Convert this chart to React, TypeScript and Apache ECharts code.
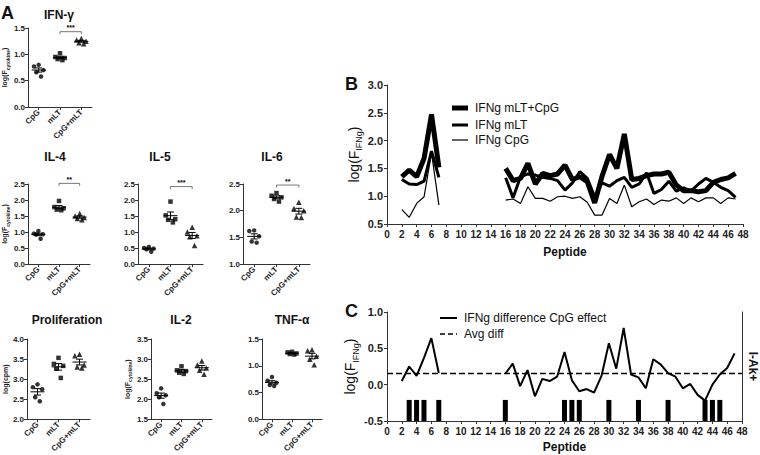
import React, { useEffect, useRef } from "react";
import * as echarts from "echarts";

const FONT = "Liberation Sans, Arial, Helvetica, sans-serif";
const GROUPS = ["CpG", "mLT", "CpG+mLT"];

// ---- Panel A data (log values, 5 animals per group) ----
const IFNG_CPG = [0.8, 0.77, 0.7, 0.66, 0.58];
const IFNG_MLT = [1.02, 0.95, 0.93, 0.91, 0.89];
const IFNG_BOTH = [1.3, 1.27, 1.25, 1.22, 1.2];

const IL4_CPG = [1.03, 0.95, 0.93, 0.92, 0.79];
const IL4_MLT = [1.97, 1.78, 1.74, 1.7, 1.68];
const IL4_BOTH = [1.58, 1.5, 1.45, 1.42, 1.38];

const IL5_CPG = [0.53, 0.5, 0.48, 0.46, 0.38];
const IL5_MLT = [1.95, 1.52, 1.4, 1.38, 1.3];
const IL5_BOTH = [1.15, 1.0, 0.88, 0.85, 0.58];

const IL6_CPG = [1.63, 1.62, 1.52, 1.42, 1.4];
const IL6_MLT = [2.33, 2.28, 2.25, 2.22, 2.17];
const IL6_BOTH = [2.16, 2.04, 2.0, 1.88, 1.87];

const PROLIF_CPG = [2.87, 2.8, 2.75, 2.55, 2.45];
const PROLIF_MLT = [3.53, 3.38, 3.33, 3.26, 3.03];
const PROLIF_BOTH = [3.62, 3.58, 3.35, 3.3, 3.28];

const IL2_CPG = [2.27, 2.15, 2.1, 2.05, 1.88];
const IL2_MLT = [2.82, 2.72, 2.7, 2.66, 2.63];
const IL2_BOTH = [2.95, 2.85, 2.78, 2.72, 2.62];

const TNF_CPG = [0.79, 0.72, 0.68, 0.64, 0.62];
const TNF_MLT = [1.26, 1.25, 1.23, 1.22, 1.21];
const TNF_BOTH = [1.3, 1.28, 1.18, 1.12, 1.02];

// ---- Panel B / C data ----
const PEPTIDES = [
  2, 3, 4, 5, 6, 7, 8, 9, 10, 11, 12, 13, 14, 15, 16, 17, 18, 19, 20, 21, 22, 23, 24,
  25, 26, 27, 28, 29, 30, 31, 32, 33, 34, 35, 36, 37, 38, 39, 40, 41, 42, 43, 44, 45, 46, 47,
];
const IFNG_MLT_CPG_PEP = [
  1.35, 1.47, 1.35, 1.68, 2.47, 1.52, null, null, null, null, null, null, null, null,
  1.5, 1.28, 1.32, 1.59, 1.22, 1.41, 1.37, 1.4, 1.56, 1.3, 1.35, 1.26, 0.88, 1.36, 1.75,
  1.5, 2.12, 1.3, 1.32, 1.37, 1.4, 1.4, 1.43, 1.2, 1.1, 1.1, 1.08, 1.1, 1.25, 1.3, 1.33, 1.41,
];
const IFNG_MLT_PEP = [
  1.3, 1.22, 1.21, 1.27, 1.81, 1.34, null, null, null, null, null, null, null, null,
  1.33, 0.97, 1.35, 1.4, 1.38, 1.34, 1.32, 1.28, 1.11, 1.24, 1.44, 1.32, 0.99, 1.24, 1.18,
  1.28, 1.34, 1.16, 1.22, 1.42, 1.05, 1.12, 1.27, 1.09, 1.15, 1.09, 1.22, 1.32, 1.25, 1.16, 1.1, 0.98,
];
const IFNG_CPG_PEP = [
  0.76, 0.62, 0.87, 0.99, 1.78, 0.84, null, null, null, null, null, null, null, null,
  0.93, 0.95, 0.87, 1.17, 0.96, 0.96, 0.91, 0.99, 1.0, 0.96, 0.99, 0.89, 0.66, 0.66, 0.96,
  0.87, 1.2, 0.81, 0.9, 0.95, 0.85, 0.93, 0.91, 0.97, 0.87, 0.97, 0.9, 0.97, 0.97, 0.87, 0.97, 0.95,
];
const IFNG_DIFF_PEP = [
  0.05, 0.25, 0.12, 0.37, 0.64, 0.16, null, null, null, null, null, null, null, null,
  0.15, 0.29, -0.02, 0.2, -0.16, 0.08, 0.05, 0.11, 0.45, 0.06, -0.09, -0.06, -0.11, 0.12, 0.57,
  0.22, 0.78, 0.14, 0.1, -0.05, 0.35, 0.28, 0.16, 0.11, -0.05, 0.01, -0.14, -0.22, 0.0, 0.14, 0.23, 0.43,
];
const AVG_DIFF = 0.153;
const I_AK_POSITIVE = [3, 4, 5, 7, 16, 24, 25, 26, 30, 34, 38, 43, 44, 45];

// ---- helpers ----
const mean = (a: number[]) => a.reduce((s, v) => s + v, 0) / a.length;
const sem = (a: number[]) => {
  const m = mean(a);
  const v = a.reduce((s, x) => s + (x - m) * (x - m), 0) / (a.length - 1);
  return Math.sqrt(v) / Math.sqrt(a.length);
};

const SYMBOLS = ["circle", "rect", "triangle"];
const SYMSIZE = [4.5, 4.5, 5.5];
const JITTER = [0, -0.22, 0.22, -0.11, 0.11];
const AXIS_LINE = { color: "#333", width: 1 };

const SMALL_RICH = {
  a: { fontSize: 7, fontWeight: "bold", fontFamily: FONT, color: "#222", lineHeight: 11, verticalAlign: "middle" },
  b: { fontSize: 5, fontWeight: "bold", fontFamily: FONT, color: "#222", lineHeight: 7, verticalAlign: "bottom" },
};
const BIG_RICH = {
  a: { fontSize: 14, fontFamily: FONT, color: "#111", lineHeight: 20, verticalAlign: "middle" },
  b: { fontSize: 9, fontFamily: FONT, color: "#111", lineHeight: 12, verticalAlign: "bottom" },
};

type APanel = {
  title: string;
  tx: number;
  ty: number;
  left: number;
  top: number;
  width: number;
  height: number;
  yMin: number;
  yMax: number;
  yName?: string;
  nameGap?: number;
  groups: number[][];
  bracket?: { y: number; stars: string };
};

const CYTO_NAME = "{a|log(F}{b|cytokine}{a|)}";

const A_PANELS: APanel[] = [
  { title: "IFN-γ", tx: 59, ty: 15, left: 27, top: 28, width: 65, height: 79, yMin: 0, yMax: 1.5, yName: CYTO_NAME, nameGap: 16, groups: [IFNG_CPG, IFNG_MLT, IFNG_BOTH], bracket: { y: 1.43, stars: "***" } },
  { title: "IL-4", tx: 55, ty: 157, left: 28, top: 184, width: 62, height: 80, yMin: 0, yMax: 2.5, yName: CYTO_NAME, nameGap: 16, groups: [IL4_CPG, IL4_MLT, IL4_BOTH], bracket: { y: 2.52, stars: "**" } },
  { title: "IL-5", tx: 160, ty: 157, left: 138, top: 184, width: 65, height: 80, yMin: 0, yMax: 2.5, groups: [IL5_CPG, IL5_MLT, IL5_BOTH], bracket: { y: 2.42, stars: "***" } },
  { title: "IL-6", tx: 272, ty: 157, left: 243, top: 184, width: 67, height: 80, yMin: 1, yMax: 2.5, groups: [IL6_CPG, IL6_MLT, IL6_BOTH], bracket: { y: 2.48, stars: "**" } },
  { title: "Proliferation", tx: 67, ty: 320, left: 27, top: 339, width: 63, height: 84, yMin: 2, yMax: 4, yName: "{a|log(cpm)}", nameGap: 16, groups: [PROLIF_CPG, PROLIF_MLT, PROLIF_BOTH] },
  { title: "IL-2", tx: 181, ty: 320, left: 151, top: 339, width: 61, height: 84, yMin: 1.5, yMax: 3.5, yName: CYTO_NAME, nameGap: 16, groups: [IL2_CPG, IL2_MLT, IL2_BOTH] },
  { title: "TNF-α", tx: 292, ty: 320, left: 262, top: 339, width: 60, height: 84, yMin: 0, yMax: 1.5, groups: [TNF_CPG, TNF_MLT, TNF_BOTH] },
];

function textEl(text: string, x: number, y: number, size: number, weight: string, align = "center", extra: any = {}) {
  return {
    type: "text",
    x,
    y,
    silent: true,
    style: {
      text,
      fontSize: size,
      fontWeight: weight,
      fontFamily: FONT,
      fill: "#111",
      align,
      verticalAlign: "middle",
      textAlign: align,
      textVerticalAlign: "middle",
    },
    ...extra,
  };
}

function renderMeanSem(_params: any, api: any) {
  const x = api.value(0);
  const m = api.value(1);
  const s = api.value(2);
  const c = api.coord([x, m]);
  const t = api.coord([x, m + s]);
  const b = api.coord([x, m - s]);
  const st = { stroke: "#000", lineWidth: 1 };
  const hw = 7;
  const cw = 3.5;
  return {
    type: "group",
    children: [
      { type: "line", shape: { x1: c[0] - hw, y1: c[1], x2: c[0] + hw, y2: c[1] }, style: st },
      { type: "line", shape: { x1: t[0], y1: t[1], x2: b[0], y2: b[1] }, style: st },
      { type: "line", shape: { x1: t[0] - cw, y1: t[1], x2: t[0] + cw, y2: t[1] }, style: st },
      { type: "line", shape: { x1: b[0] - cw, y1: b[1], x2: b[0] + cw, y2: b[1] }, style: st },
    ],
  };
}

function buildOption() {
  const grid: any[] = [];
  const xAxis: any[] = [];
  const yAxis: any[] = [];
  const series: any[] = [];
  const graphic: any[] = [];

  A_PANELS.forEach((p) => {
    const g = grid.length;
    grid.push({ left: p.left, top: p.top, width: p.width, height: p.height });
    const xc = xAxis.length;
    xAxis.push({
      type: "category",
      gridIndex: g,
      data: GROUPS,
      boundaryGap: true,
      axisLine: { show: true, onZero: false, lineStyle: AXIS_LINE },
      axisTick: { show: true, alignWithLabel: true, length: 3, lineStyle: AXIS_LINE },
      axisLabel: { rotate: 45, fontSize: 8, fontWeight: "bold", color: "#222", margin: 4, interval: 0, fontFamily: FONT },
      splitLine: { show: false },
    });
    const xv = xAxis.length;
    xAxis.push({ type: "value", gridIndex: g, min: 0, max: 3, show: false });
    const yi = yAxis.length;
    yAxis.push({
      type: "value",
      gridIndex: g,
      min: p.yMin,
      max: p.yMax,
      interval: 0.5,
      axisLine: { show: true, onZero: false, lineStyle: AXIS_LINE },
      axisTick: { show: true, length: 3, lineStyle: AXIS_LINE },
      axisLabel: { fontSize: 8, fontWeight: "bold", color: "#222", margin: 3, fontFamily: FONT, formatter: (v: number) => v.toFixed(1) },
      splitLine: { show: false },
      name: p.yName || "",
      nameLocation: "middle",
      nameRotate: 90,
      nameGap: p.nameGap || 16,
      nameTextStyle: { rich: SMALL_RICH },
    });
    void xc;
    p.groups.forEach((vals, k) => {
      series.push({
        type: "scatter",
        name: `${p.title} ${GROUPS[k]}`,
        xAxisIndex: xv,
        yAxisIndex: yi,
        symbol: SYMBOLS[k],
        symbolSize: SYMSIZE[k],
        itemStyle: { color: "#000" },
        silent: true,
        data: vals.map((v, i) => [k + 0.5 + JITTER[i], v]),
      });
    });
    series.push({
      type: "custom",
      xAxisIndex: xv,
      yAxisIndex: yi,
      silent: true,
      clip: false,
      z: 3,
      renderItem: renderMeanSem,
      data: p.groups.map((vals, k) => [k + 0.5, mean(vals), sem(vals)]),
    });
    if (p.bracket) {
      const stars = p.bracket.stars;
      series.push({
        type: "custom",
        xAxisIndex: xv,
        yAxisIndex: yi,
        silent: true,
        clip: false,
        data: [[1.5, 2.5, p.bracket.y]],
        renderItem: (_params: any, api: any) => {
          const a = api.coord([api.value(0), api.value(2)]);
          const b = api.coord([api.value(1), api.value(2)]);
          const st = { stroke: "#555", lineWidth: 0.8 };
          return {
            type: "group",
            children: [
              { type: "line", shape: { x1: a[0], y1: a[1], x2: b[0], y2: b[1] }, style: st },
              { type: "line", shape: { x1: a[0], y1: a[1], x2: a[0], y2: a[1] + 2.5 }, style: st },
              { type: "line", shape: { x1: b[0], y1: b[1], x2: b[0], y2: b[1] + 2.5 }, style: st },
              {
                type: "text",
                x: (a[0] + b[0]) / 2,
                y: a[1] - 0.5,
                style: {
                  text: stars,
                  fontSize: 7,
                  fontWeight: "bold",
                  fontFamily: FONT,
                  fill: "#000",
                  align: "center",
                  verticalAlign: "bottom",
                  textAlign: "center",
                  textVerticalAlign: "bottom",
                },
              },
            ],
          };
        },
      });
    }
    graphic.push(textEl(p.title, p.tx, p.ty, 12, "bold"));
  });

  // ---- Panel B ----
  const gB = grid.length;
  grid.push({ left: 387, top: 85, width: 356, height: 139 });
  const xB = xAxis.length;
  xAxis.push({
    type: "value",
    gridIndex: gB,
    min: 0,
    max: 48,
    interval: 2,
    axisLine: { show: true, onZero: false, lineStyle: AXIS_LINE },
    axisTick: { show: true, length: 3, lineStyle: AXIS_LINE },
    axisLabel: { fontSize: 10, fontWeight: "bold", color: "#222", margin: 5, fontFamily: FONT },
    splitLine: { show: false },
    name: "Peptide",
    nameLocation: "middle",
    nameGap: 22,
    nameTextStyle: { fontSize: 12, fontWeight: "bold", color: "#111", fontFamily: FONT },
  });
  const yB = yAxis.length;
  yAxis.push({
    type: "value",
    gridIndex: gB,
    min: 0.5,
    max: 3,
    interval: 0.5,
    axisLine: { show: true, onZero: false, lineStyle: AXIS_LINE },
    axisTick: { show: true, length: 3, lineStyle: AXIS_LINE },
    axisLabel: { fontSize: 11, fontWeight: "bold", color: "#222", margin: 4, fontFamily: FONT, formatter: (v: number) => v.toFixed(1) },
    splitLine: { show: false },
    name: "{a|log(F}{b|IFNg}{a|)}",
    nameLocation: "middle",
    nameRotate: 90,
    nameGap: 22,
    nameTextStyle: { rich: BIG_RICH },
  });
  const bLines: [string, (number | null)[], number][] = [
    ["IFNg mLT+CpG", IFNG_MLT_CPG_PEP, 5],
    ["IFNg mLT", IFNG_MLT_PEP, 3],
    ["IFNg CpG", IFNG_CPG_PEP, 1.2],
  ];
  bLines.forEach(([name, vals, w]) => {
    series.push({
      type: "line",
      name,
      xAxisIndex: xB,
      yAxisIndex: yB,
      showSymbol: false,
      symbol: "none",
      connectNulls: false,
      silent: true,
      lineStyle: { color: "#000", width: w },
      itemStyle: { color: "#000" },
      data: PEPTIDES.map((p, i) => [p, vals[i] == null ? "-" : vals[i]]),
    });
  });

  // ---- Panel C ----
  const gC = grid.length;
  grid.push({ left: 387, top: 312, width: 356, height: 109 });
  const xC = xAxis.length;
  xAxis.push({
    type: "value",
    gridIndex: gC,
    min: 0,
    max: 48,
    interval: 2,
    axisLine: { show: true, onZero: false, lineStyle: AXIS_LINE },
    axisTick: { show: true, length: 3, lineStyle: AXIS_LINE },
    axisLabel: { fontSize: 10, fontWeight: "bold", color: "#222", margin: 5, fontFamily: FONT },
    splitLine: { show: false },
    name: "Peptide",
    nameLocation: "middle",
    nameGap: 20,
    nameTextStyle: { fontSize: 12, fontWeight: "bold", color: "#111", fontFamily: FONT },
  });
  const yC = yAxis.length;
  yAxis.push({
    type: "value",
    gridIndex: gC,
    min: -0.5,
    max: 1,
    interval: 0.5,
    axisLine: { show: true, onZero: false, lineStyle: AXIS_LINE },
    axisTick: { show: true, length: 3, lineStyle: AXIS_LINE },
    axisLabel: { fontSize: 11, fontWeight: "bold", color: "#222", margin: 4, fontFamily: FONT, formatter: (v: number) => v.toFixed(1) },
    splitLine: { show: false },
    name: "{a|log(F}{b|IFNg}{a|)}",
    nameLocation: "middle",
    nameRotate: 90,
    nameGap: 26,
    nameTextStyle: { rich: BIG_RICH },
  });
  yAxis.push({
    type: "value",
    gridIndex: gC,
    position: "right",
    min: -0.5,
    max: 1,
    interval: 0.5,
    axisLine: { show: true, onZero: false, lineStyle: AXIS_LINE },
    axisTick: { show: false },
    axisLabel: { show: false },
    splitLine: { show: false },
    name: "I-Ak+",
    nameLocation: "middle",
    nameRotate: -90,
    nameGap: 5,
    nameTextStyle: { fontSize: 12, fontWeight: "bold", color: "#111", fontFamily: FONT },
  });
  series.push({
    type: "line",
    name: "IFNg difference CpG effect",
    xAxisIndex: xC,
    yAxisIndex: yC,
    showSymbol: false,
    symbol: "none",
    connectNulls: false,
    silent: true,
    lineStyle: { color: "#000", width: 2 },
    itemStyle: { color: "#000" },
    data: PEPTIDES.map((p, i) => [p, IFNG_DIFF_PEP[i] == null ? "-" : IFNG_DIFF_PEP[i]]),
  });
  series.push({
    type: "line",
    name: "Avg diff",
    xAxisIndex: xC,
    yAxisIndex: yC,
    showSymbol: false,
    symbol: "none",
    silent: true,
    lineStyle: { color: "#000", width: 1.5, type: [6, 3] },
    itemStyle: { color: "#000" },
    data: [
      [0, AVG_DIFF],
      [48, AVG_DIFF],
    ],
  });
  const BAR_TOP = -0.21;
  const BAR_BOTTOM = -0.5;
  series.push({
    type: "custom",
    name: "I-Ak+",
    xAxisIndex: xC,
    yAxisIndex: yC,
    silent: true,
    data: I_AK_POSITIVE.map((p) => [p, BAR_TOP]),
    renderItem: (_params: any, api: any) => {
      const t = api.coord([api.value(0), api.value(1)]);
      const b = api.coord([api.value(0), BAR_BOTTOM]);
      return {
        type: "rect",
        shape: { x: t[0] - 2.5, y: t[1], width: 5, height: b[1] - t[1] },
        style: { fill: "#000" },
      };
    },
  });

  // ---- panel letters ----
  graphic.push(textEl("A", 1, 13, 18, "bold", "left"));
  graphic.push(textEl("B", 345, 84, 18, "bold", "left"));
  graphic.push(textEl("C", 345, 311, 18, "bold", "left"));

  // ---- legend B ----
  const legB: [string, number, number][] = [
    ["IFNg mLT+CpG", 108, 5],
    ["IFNg mLT", 125, 3],
    ["IFNg CpG", 140, 1.2],
  ];
  legB.forEach(([t, y, w]) => {
    graphic.push({ type: "line", silent: true, shape: { x1: 452, y1: y, x2: 468, y2: y }, style: { stroke: "#000", lineWidth: w } });
    graphic.push(textEl(t, 475, y, 12, "normal", "left"));
  });
  // ---- legend C ----
  graphic.push({ type: "line", silent: true, shape: { x1: 440, y1: 318, x2: 457, y2: 318 }, style: { stroke: "#000", lineWidth: 2 } });
  graphic.push(textEl("IFNg difference CpG effect", 464, 318, 12, "normal", "left"));
  graphic.push({ type: "line", silent: true, shape: { x1: 440, y1: 334, x2: 457, y2: 334 }, style: { stroke: "#000", lineWidth: 1.5, lineDash: [5, 3] } });
  graphic.push(textEl("Avg diff", 464, 334, 12, "normal", "left"));

  return {
    animation: false,
    backgroundColor: "#fff",
    textStyle: { fontFamily: FONT },
    grid,
    xAxis,
    yAxis,
    series,
    graphic,
  };
}

export default function App() {
  const ref = useRef<HTMLDivElement>(null);
  useEffect(() => {
    if (!ref.current) return;
    const chart = echarts.init(ref.current, undefined, { renderer: "svg" });
    chart.setOption(buildOption() as any);
    return () => {
      chart.dispose();
    };
  }, []);
  return (
    <div
      ref={ref}
      style={{ position: "fixed", left: 0, top: 0, width: 760, height: 455, background: "#fff" }}
    />
  );
}
